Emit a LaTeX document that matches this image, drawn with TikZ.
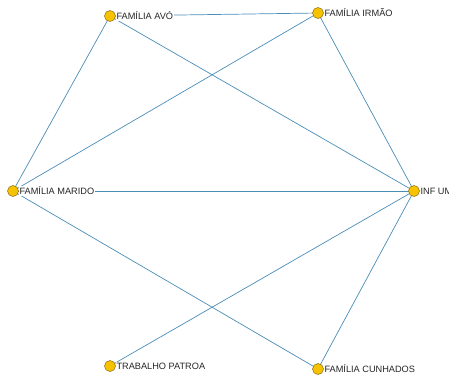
\documentclass[tikz,border=0pt]{standalone}
\usepackage{fontspec}
\setmainfont{Liberation Sans}
\definecolor{edgeblue}{HTML}{4A8DB7}
\definecolor{nodegold}{HTML}{F7C300}
\definecolor{nodering}{HTML}{8A6A10}
\begin{document}
\begin{tikzpicture}[x=1bp,y=-1bp,
  vertex/.style={circle,draw=nodering,line width=0.5bp,fill=nodegold,minimum size=11bp,inner sep=0pt},
  tag/.style={anchor=west,fill=white,inner sep=0.6bp,font=\fontsize{9.2bp}{10bp}\selectfont,text=black!85},
  link/.style={draw=edgeblue,line width=0.7bp}]
\useasboundingbox (0,0) rectangle (449,380);
% connections between vertex centres
\coordinate (avo) at (110,16);
\coordinate (irmao) at (318,13);
\coordinate (marido) at (13,191);
\coordinate (infum) at (414,191);
\coordinate (trabalho) at (110,366);
\coordinate (cunhados) at (318,369);
\draw[link] (avo) -- (irmao);
\draw[link] (avo) -- (marido);
\draw[link] (avo) -- (infum);
\draw[link] (irmao) -- (marido);
\draw[link] (irmao) -- (infum);
\draw[link] (marido) -- (infum);
\draw[link] (marido) -- (cunhados);
\draw[link] (infum) -- (trabalho);
\draw[link] (infum) -- (cunhados);
% vertices above the lines
\node[vertex] (vavo) at (avo) {};
\node[vertex] (virmao) at (irmao) {};
\node[vertex] (vmarido) at (marido) {};
\node[vertex] (vinfum) at (infum) {};
\node[vertex] (vtrabalho) at (trabalho) {};
\node[vertex] (vcunhados) at (cunhados) {};
% labels
\node[tag] (lavo) at (vavo.east) {FAMÍLIA AVÓ};
\node[tag] (lirmao) at (virmao.east) {FAMÍLIA IRMÃO};
\node[tag] (lmarido) at (vmarido.east) {FAMÍLIA MARIDO};
\node[tag] (linfum) at (vinfum.east) {INF UM};
\node[tag] (ltrabalho) at (vtrabalho.east) {TRABALHO PATROA};
\node[tag] (lcunhados) at (vcunhados.east) {FAMÍLIA CUNHADOS};
\end{tikzpicture}
\end{document}
